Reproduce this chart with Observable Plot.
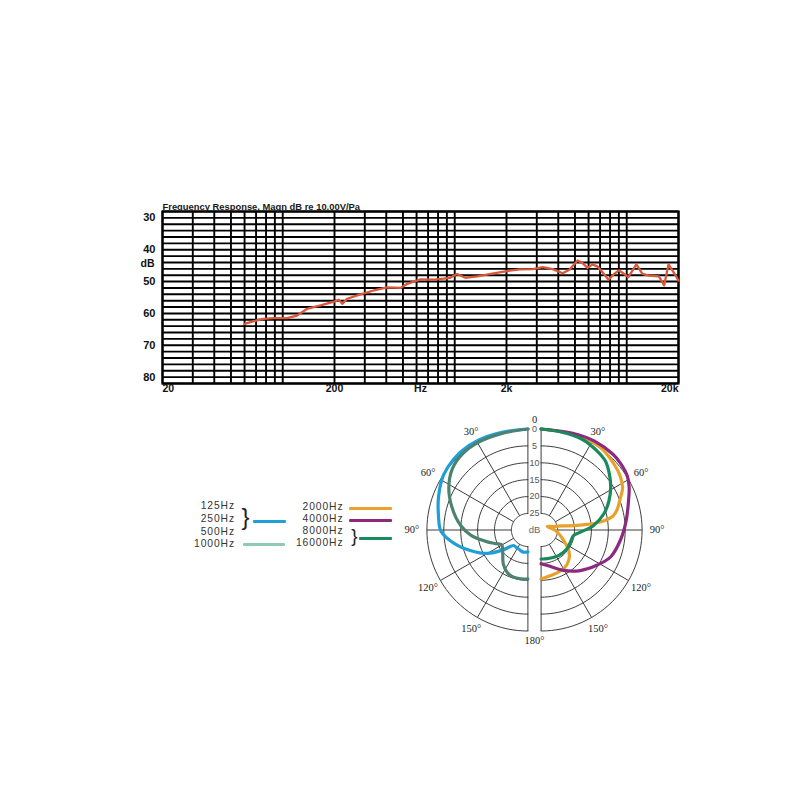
<!DOCTYPE html>
<html><head><meta charset="utf-8">
<script src="https://cdn.jsdelivr.net/npm/d3@7"></script>
<script src="https://cdn.jsdelivr.net/npm/@observablehq/plot@0.6"></script>
<style>
html,body{margin:0;padding:0;background:#fff;}
#root{position:relative;width:800px;height:800px;overflow:hidden;background:#fff;}
.lg{position:absolute;font-family:"Liberation Sans",sans-serif;font-size:10.3px;color:#333;line-height:1;white-space:nowrap;letter-spacing:0.9px;}
.br{position:absolute;font-family:"Liberation Sans",sans-serif;color:#222;line-height:1;}
.ln{position:absolute;height:2.8px;border-radius:1px;}
</style></head><body><div id="root"></div>
<script>
// ---------- Frequency response data ----------
const freqs = [60, 68, 77, 88, 106, 121, 138, 166, 199, 212, 222, 237, 283, 338, 405, 484, 530, 632, 756, 862, 940, 1032, 1152, 1354, 1683, 2005, 2386, 2844, 3250, 3712, 4240, 4640, 5180, 5530, 5920, 6330, 6770, 7230, 7840, 8450, 9030, 9530, 10220, 11380, 12340, 13500, 15400, 16500, 17500, 18900, 20000];
const magnDb = [63.3, 62.4, 61.7, 61.5, 61.5, 60.7, 58.6, 57.5, 56.3, 55.7, 57.0, 55.4, 54.0, 52.8, 51.8, 52.0, 50.7, 49.3, 49.4, 49.1, 48.8, 47.6, 48.8, 48.4, 47.4, 46.7, 46.2, 46.1, 45.5, 46.1, 47.4, 46.3, 43.4, 44.2, 45.7, 44.6, 45.3, 47.1, 49.4, 47.6, 46.5, 47.4, 48.6, 44.6, 47.6, 48.1, 48.4, 51.2, 44.6, 47.4, 49.7];
const gridFreqs = [20,30,40,50,60,70,80,90,100,200,300,400,500,600,700,800,900,1000,2000,3000,4000,5000,6000,7000,8000,9000,10000,20000];
const gridDb = [28,30,32,34,36,38,40,42,44,46,48,50,52,54,56,58,60,62,64,66,68,70,72,74,76,78,80,82];
const yTicks = [30,40,50,60,70,80];
const xTicks = [20,200,2000,20000];
const xTickLabels = ["20","200","2k","20k"];
const titleText = "Frequency Response, Magn dB re 10.00V/Pa";

// ---------- Polar pattern data: [angle in degrees, attenuation dB] ----------
const pattern500 = [[0,0],[11,0.1],[24,-0.3],[35,-0.6],[46,-0.5],[57,0.1],[69,1.6],[81,3.1],[91,4.2],[101,8],[110,12],[120,16],[129,20.6],[137,23.6],[146,23.7],[155,23.6],[168,23.2],[180,23.4]];
const pattern1000 = [[0,0],[15,0.3],[29,0.1],[41,0.2],[51,1.1],[62.5,3.5],[74,6.6],[86,9.9],[95.5,13],[107,17.6],[113,19.6],[119,21],[126,20.6],[133,19.7],[144,17.5],[154,15.9],[163,15.3],[172,15.3],[180,15.4]];
const pattern2000 = [[0,0],[21,-0.1],[35.6,-0.2],[49,0.9],[56,1.6],[62.5,2.7],[69,4.9],[75,6.6],[79,8.2],[82,11.5],[83,14],[83,17],[82.5,20.1],[79,23.5],[74.5,26],[60,27.8],[92,25.6],[104,24.3],[115,22.5],[126.5,19.7],[138,17.7],[150,16.6],[168,16.1],[180,15.4]];
const pattern4000 = [[0,0],[17.5,-0.2],[31,-0.8],[43.5,-1],[50,-0.8],[58,-0.2],[64,0.9],[71,2.5],[84,4.6],[97,6.2],[111,7.8],[122,10.3],[136,13.2],[151,16.2],[170,19.2],[180,19.9]];
const pattern8000 = [[0,0],[12,0.3],[24,0.4],[35,1.2],[43,2],[50,3.6],[58,5.6],[67,8.1],[75.5,10.7],[85,14.3],[93,18.2],[99.5,20.1],[112,20.5],[126,20.4],[145,20.7],[168,21.2],[180,21.3]];
const ringDb = [0,5,10,15,20,25];
const spokeAngles = [0,30,60,90,120,150,180];
const angleLabelAngles = [30,60,90,120,150];
const legendLeft = ["125Hz","250Hz","500Hz","1000Hz"];
const legendRight = ["2000Hz","4000Hz","8000Hz","16000Hz"];

const colors = {p500:"#1f9fd8", p1000:"#4e8270", p1000legend:"#8ecab3", p2000:"#e8a22b", p4000:"#8c2a80", p8000:"#198a5b"};

const root = document.getElementById("root");

// ---------- Frequency response plot ----------
const freqResp = freqs.map((f,i)=>({f, db: magnDb[i]}));
const xLab = xTicks.map((v,i)=>({v, t: xTickLabels[i]}));
const lblStyle = {fontSize: 10.5, fontWeight: "bold", fill: "#111"};
const topPlot = Plot.plot({
  width: 800, height: 400,
  marginLeft: 162, marginRight: 122, marginTop: 211, marginBottom: 17,
  x: {type: "log", domain: [20, 20000], axis: null},
  y: {domain: [28, 82], reverse: true, axis: null},
  style: {position:"absolute", left:"0px", top:"0px", background:"transparent", fontFamily:"Liberation Sans, sans-serif", overflow:"visible"},
  marks: [
    Plot.ruleY(gridDb, {stroke:"#000", strokeWidth:1.9}),
    Plot.ruleX(gridFreqs, {stroke:"#000", strokeWidth:1.9}),
    Plot.frame({stroke:"#000", strokeWidth:2.2}),
    Plot.line(freqResp, {x:"f", y:"db", stroke:"#d9583a", strokeWidth:2.3, curve:"linear"}),
    Plot.axisY(yTicks, {tickSize:0, tickPadding:7, fontSize:11, fontWeight:"bold", fill:"#111", label:null}),
    Plot.text(xLab.slice(0,1), {x:"v", text:"t", frameAnchor:"bottom", dy:8, textAnchor:"start", ...lblStyle}),
    Plot.text(xLab.slice(1,3), {x:"v", text:"t", frameAnchor:"bottom", dy:8, textAnchor:"middle", ...lblStyle}),
    Plot.text(xLab.slice(3), {x:"v", text:"t", frameAnchor:"bottom", dy:8, textAnchor:"end", ...lblStyle}),
    Plot.text(["Hz"], {text:d=>d, frameAnchor:"bottom", dy:8, ...lblStyle}),
    Plot.text(["dB"], {text:d=>d, frameAnchor:"left", dx:-8, dy:-34, textAnchor:"end", ...lblStyle}),
    Plot.text([titleText], {text:d=>d, frameAnchor:"top-left", dy:-8, textAnchor:"start", fontSize:9.4, fontWeight:"bold", fill:"#1a1a1a"})
  ]
});
root.appendChild(topPlot);

// ---------- Polar plot ----------
const K = 3.38;          // px per dB
const R_IN = 16.5 / K;   // inner circle radius (25 dB) in dB units
const HALF_GAP = 6.6 / K;
const rho = db => R_IN + (25 - db);
const toXY = (side, deg, db) => {
  const a = deg * Math.PI / 180, r = rho(db);
  return {x: side * (HALF_GAP + r * Math.sin(a)), y: r * Math.cos(a)};
};
const sides = [-1, 1];
const ringPts = [];
for (const s of sides) for (const d of ringDb) for (let a = 0; a <= 180; a += 3) ringPts.push({...toXY(s, a, d), key: s + "_" + d});
const spokes = [];
for (const s of sides) for (const a of spokeAngles) {
  const p1 = toXY(s, a, 25), p2 = toXY(s, a, 0);
  spokes.push({x1:p1.x, y1:p1.y, x2:p2.x, y2:p2.y});
}
const angLabels = [];
for (const s of sides) for (const a of angleLabelAngles) {
  const off = (10 + 5 * Math.abs(Math.sin(a * Math.PI / 180))) / K;
  const r = rho(0) + off, t = a * Math.PI / 180;
  angLabels.push({x: s * (HALF_GAP + r * Math.sin(t)), y: r * Math.cos(t), t: a + "°"});
}
angLabels.push({x: 0, y: rho(0) + 9.5 / K, t: "0"});
angLabels.push({x: 0, y: -(rho(0) + 10 / K), t: "180°"});
const curve = (pts, side) => pts.map(([a, d]) => toXY(side, a, d));
const CY = 129.5, W = 300, H = 285;
const cStyle = {x:"x", y:"y", strokeWidth:3.2, curve:"catmull-rom", strokeLinecap:"round", strokeLinejoin:"round"};
const polar = Plot.plot({
  width: W, height: H, margin: 0,
  x: {domain: [-150 / K, 150 / K], axis: null},
  y: {domain: [-(H - CY) / K, CY / K], axis: null},
  style: {position:"absolute", left:"384px", top:"400px", background:"transparent", overflow:"visible", fontFamily:"Liberation Sans, sans-serif"},
  marks: [
    Plot.line(ringPts, {x:"x", y:"y", z:"key", stroke:"#333", strokeWidth:0.95}),
    Plot.link(spokes, {x1:"x1", y1:"y1", x2:"x2", y2:"y2", stroke:"#333", strokeWidth:0.95}),
    Plot.text(angLabels, {x:"x", y:"y", text:"t", fontFamily:"Liberation Serif, serif", fontSize:10.5, fill:"#222"}),
    Plot.text(ringDb, {x:() => 0, y: d => rho(d), text: d => String(d), fontSize:9, fill:"#555"}),
    Plot.text(["dB"], {x:() => 0, y:() => 0, text:d=>d, fontSize:9.5, fill:"#666"}),
    Plot.line(curve(pattern500, -1), {...cStyle, stroke:colors.p500}),
    Plot.line(curve(pattern1000, -1), {...cStyle, stroke:colors.p1000}),
    Plot.line(curve(pattern2000, 1), {...cStyle, stroke:colors.p2000}),
    Plot.line(curve(pattern4000, 1), {...cStyle, stroke:colors.p4000}),
    Plot.line(curve(pattern8000, 1), {...cStyle, stroke:colors.p8000})
  ]
});
root.appendChild(polar);

// ---------- Legend ----------
function addText(txt, rightX, yc) {
  const d = document.createElement("div");
  d.className = "lg"; d.textContent = txt;
  d.style.right = (800 - rightX) + "px"; d.style.top = (yc - 5.3) + "px";
  root.appendChild(d);
}
[506.7, 519.3, 531.9, 544.5].forEach((y, i) => addText(legendLeft[i], 235, y));
[507.5, 519.6, 531.6, 543.7].forEach((y, i) => addText(legendRight[i], 343.5, y));
function addBrace(xc, yc, fs) {
  const d = document.createElement("div");
  d.className = "br"; d.textContent = "}";
  d.style.fontSize = fs + "px";
  d.style.left = (xc - 0.17 * fs) + "px"; d.style.top = (yc - 0.5865 * fs) + "px";
  root.appendChild(d);
}
addBrace(245.5, 519.5, 24);
addBrace(354.5, 537, 19);
function addLine(x1, x2, y, color) {
  const d = document.createElement("div");
  d.className = "ln"; d.style.background = color;
  d.style.left = x1 + "px"; d.style.width = (x2 - x1) + "px"; d.style.top = (y - 1.4) + "px";
  root.appendChild(d);
}
addLine(253, 286, 521.3, colors.p500);
addLine(243, 285, 544.7, colors.p1000legend);
addLine(349, 392, 508.7, colors.p2000);
addLine(349, 392, 520.3, colors.p4000);
addLine(359, 392, 538.7, colors.p8000);
</script></body></html>
